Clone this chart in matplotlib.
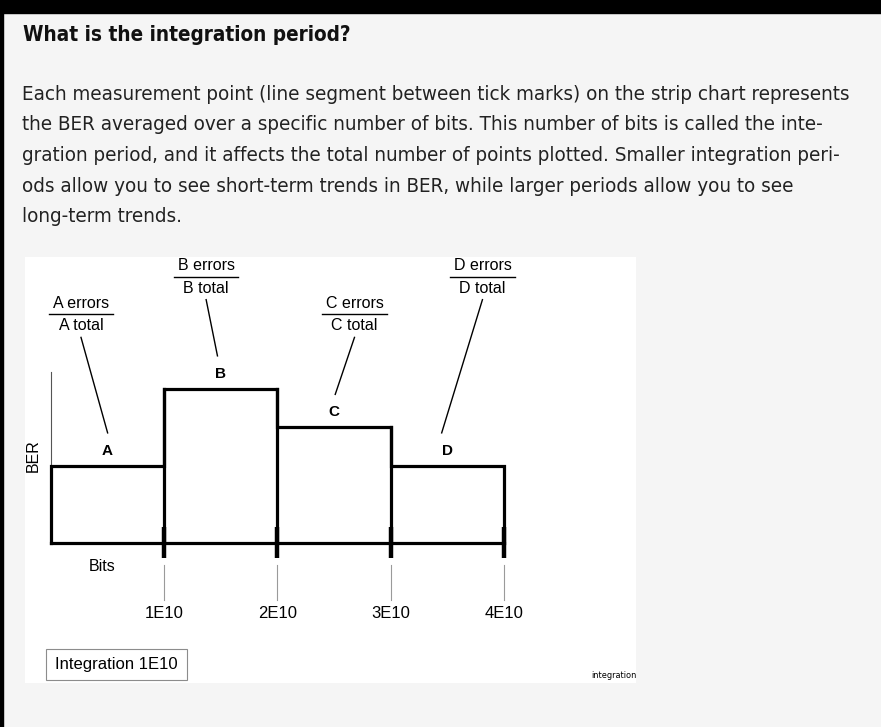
import matplotlib
matplotlib.use('Agg')
import matplotlib.pyplot as plt
import matplotlib.font_manager as fm
from matplotlib.patches import Rectangle

# data: BER per integration period (relative units) and bit boundaries
segments = ['A', 'B', 'C', 'D']
bit_edges = [0, 1e10, 2e10, 3e10, 4e10]
ber = [1.0, 2.0, 1.5, 1.0]
tick_labels = ['1E10', '2E10', '3E10', '4E10']

title = 'What is the integration period?'
para = ['Each measurement point (line segment between tick marks) on the strip chart represents',
        'the BER averaged over a specific number of bits. This number of bits is called the inte-',
        'gration period, and it affects the total number of points plotted. Smaller integration peri-',
        'ods allow you to see short-term trends in BER, while larger periods allow you to see',
        'long-term trends.']

arial = ['Liberation Sans', 'DejaVu Sans']


# look for any condensed sans face, else plain DejaVu (size gets fitted anyway)
def pick_font(bold):
    best = None
    for f in fm.fontManager.ttflist:
        nm = f.name
        cond = ('Narrow' in nm or 'Condensed' in nm or
                f.stretch in ('condensed', 'semi-condensed', 'extra-condensed'))
        if not cond or 'Mono' in nm or 'Serif' in nm or f.style != 'normal':
            continue
        w = f.weight if isinstance(f.weight, int) else (700 if f.weight == 'bold' else 400)
        score = abs(w - (700 if bold else 400))
        if best is None or score < best[0]:
            best = (score, f.fname)
    if best is not None and best[0] < 150:
        return fm.FontProperties(fname=best[1])
    return fm.FontProperties(family='DejaVu Sans', weight='bold' if bold else 'normal')


body_fp = pick_font(False)
bold_fp = pick_font(True)

W, H = 881, 727
fig = plt.figure(figsize=(W / 100, H / 100), dpi=100, facecolor='#f5f5f5')
renderer = fig.canvas.get_renderer()


def fit(t, target, start):
    t.set_fontsize(start)
    w = t.get_window_extent(renderer).width
    t.set_fontsize(start * target / w)


# page borders
fig.patches.append(Rectangle((0, 1 - 13 / H), 1, 13 / H, transform=fig.transFigure, color='black'))
fig.patches.append(Rectangle((0, 0), 3 / W, 1, transform=fig.transFigure, color='black'))

t = fig.text(23 / W, 1 - 35 / H, title, fontproperties=bold_fp, va='center', ha='left',
             color='#111111')
fit(t, 330, 16)

lines = []
for i, line in enumerate(para):
    lines.append(fig.text(22 / W, 1 - (94 + i * 30.7) / H, line, fontproperties=body_fp.copy(),
                          va='center', ha='left', color='#222222'))
fit(lines[0], 833, 16)
for t in lines[1:]:
    t.set_fontsize(lines[0].get_fontsize())

# chart area (white image)
x0, x1, y0, y1 = 25, 636, 257, 683
ax = fig.add_axes([x0 / W, 1 - y1 / H, (x1 - x0) / W, (y1 - y0) / H])
ax.set_facecolor('white')
for s in ax.spines.values():
    s.set_visible(False)
ax.set_xticks([])
ax.set_yticks([])

unit = 1e10
ax.set_xlim(-0.2296 * unit, 5.166 * unit)
ax.set_ylim(-1.818, 3.714)

# thin y axis
ax.plot([0, 0], [0, 2.22], color='#555555', lw=0.8)

# step outline
xs, ys = [bit_edges[0]], [0]
for i, v in enumerate(ber):
    xs += [bit_edges[i], bit_edges[i + 1]]
    ys += [v, v]
xs.append(bit_edges[-1]); ys.append(0)
ax.plot(xs, ys, color='black', lw=2.3, solid_joinstyle='miter')
for i in range(1, len(ber)):
    ax.plot([bit_edges[i], bit_edges[i]], [0, max(ber[i - 1], ber[i])], color='black', lw=2.3)
ax.plot([bit_edges[0], bit_edges[-1]], [0, 0], color='black', lw=2.3)

# tick marks + gray leaders + labels
for e, lab in zip(bit_edges[1:], tick_labels):
    ax.plot([e, e], [-0.19, 0.21], color='black', lw=3.2, solid_capstyle='butt')
    ax.plot([e, e], [-0.29, -0.74], color='#9a9a9a', lw=0.8)
    ax.text(e, -0.91, lab, family=arial, fontsize=12, ha='center', va='center')

ax.text(0.45 * unit, -0.31, 'Bits', family=arial, fontsize=11.5, ha='center', va='center')
ax.text(-0.16 * unit, 1.13, 'BER', family=arial, fontsize=11.5, ha='center', va='center',
        rotation=90)

# segment letters, fractions and leader lines
frac_x = [0.265, 1.37, 2.68, 3.81]
frac_y = [2.97, 3.46, 2.97, 3.46]
lead_bot = [0.5, 1.47, 2.51, 3.45]
for i, name in enumerate(segments):
    mid = (bit_edges[i] + bit_edges[i + 1]) / 2
    ax.text(mid, ber[i] + 0.2, name, family=arial, fontsize=11, fontweight='bold',
            ha='center', va='center')
    fx, fy = frac_x[i] * unit, frac_y[i]
    ax.text(fx, fy + 0.14, name + ' errors', family=arial, fontsize=11.5, ha='center', va='center')
    ax.text(fx, fy - 0.15, name + ' total', family=arial, fontsize=11.5, ha='center', va='center')
    ax.plot([fx - 0.285 * unit, fx + 0.285 * unit], [fy, fy], color='black', lw=1.0)
    ax.plot([fx, lead_bot[i] * unit], [fy - 0.3, ber[i] + 0.43], color='black', lw=1.0)

# integration box
ax.add_patch(Rectangle((-0.045 * unit, -1.78), 1.245 * unit, 0.4, facecolor='white',
                       edgecolor='#8c8c8c', lw=0.8))
ax.text(0.575 * unit, -1.58, 'Integration 1E10', family=arial, fontsize=12,
        ha='center', va='center')

t = fig.text(637 / W, 1 - 675 / H, 'integration', fontproperties=body_fp.copy(),
             ha='right', va='center')
fit(t, 46, 7)

fig.savefig('out.png', dpi=100, facecolor=fig.get_facecolor())
